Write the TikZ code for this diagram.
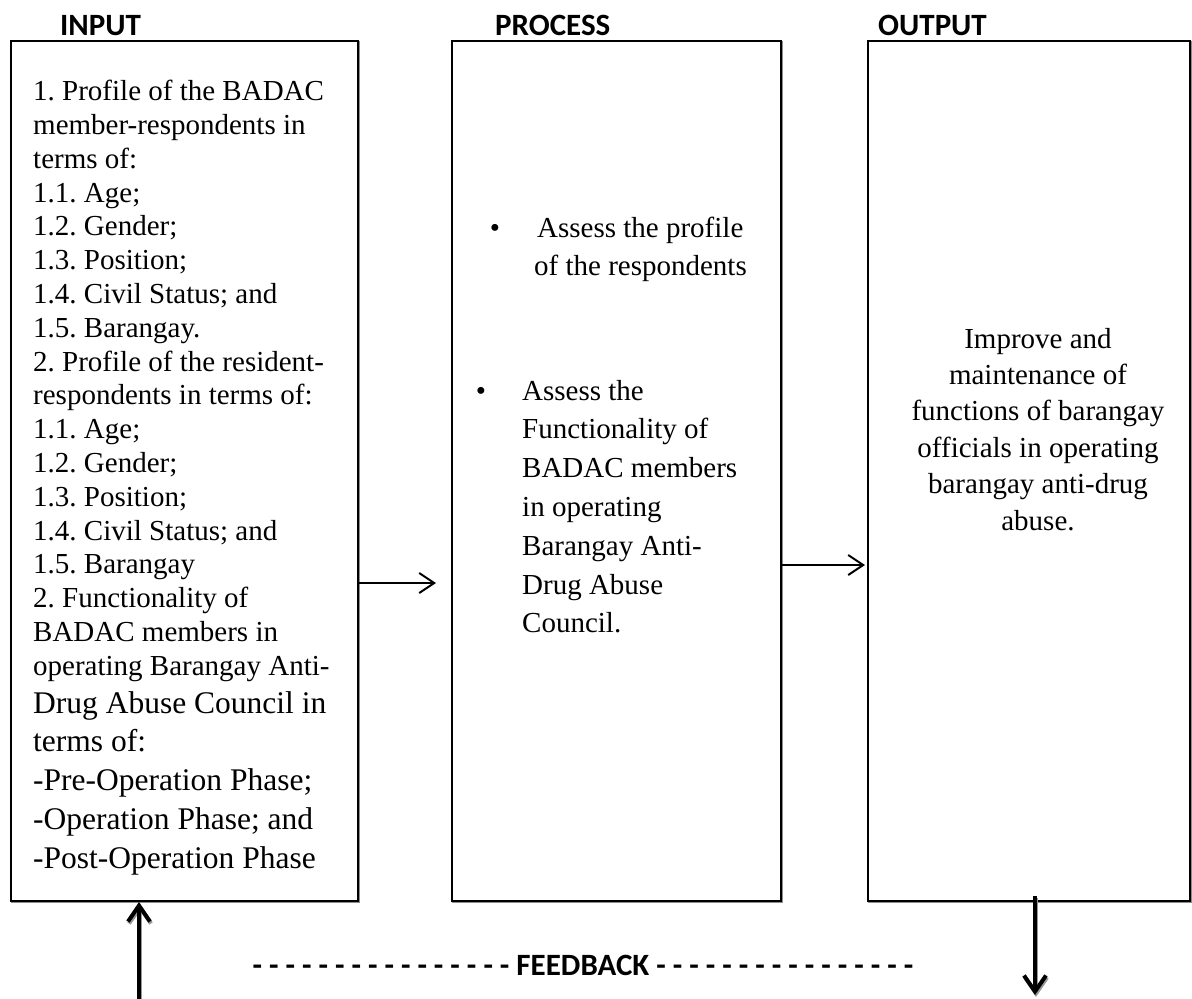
\documentclass[tikz,border=0pt]{standalone}
\usepackage{fontspec}
\setmainfont{Liberation Serif}
\newfontfamily\hdrfont{Carlito}
\usetikzlibrary{arrows.meta}
\frenchspacing
\begin{document}
\begin{tikzpicture}[x=1pt,y=-1pt,
  box/.style={draw, line width=2pt, inner sep=0pt},
  boxshadow/.style={draw=black!45, line width=2pt, inner sep=0pt},
  hdr/.style={font=\hdrfont\bfseries\fontsize{31}{36}\selectfont, anchor=base west, inner sep=0pt},
  body/.style={font=\fontsize{29}{34}\selectfont, anchor=base west, inner sep=0pt},
  bigbody/.style={font=\fontsize{31.5}{38}\selectfont, anchor=base west, inner sep=0pt},
  centbody/.style={font=\fontsize{29}{34}\selectfont, anchor=base, inner sep=0pt},
  thinarrow/.style={line width=2pt, -{Straight Barb[length=15pt,width=20pt]}},
  thickarrow/.style={line width=4pt, -{Straight Barb[length=16pt,width=22pt]}},
  thickshadow/.style={draw=black!40, line width=4pt, -{Straight Barb[length=16pt,width=22pt]}}]
\useasboundingbox (0,0) rectangle (1192,999);
\fill[white] (0,0) rectangle (1192,999);

% box shadows
\node[boxshadow, minimum width=347pt, minimum height=860.5pt] (inshadow) at (185.5,472) {};
\node[boxshadow, minimum width=329pt, minimum height=860.5pt] (prshadow) at (617.5,472) {};
\node[boxshadow, minimum width=322pt, minimum height=860.5pt] (outshadow) at (1030,472) {};
% boxes
\node[box, fill=white, minimum width=347pt, minimum height=860.5pt] (inbox) at (184.5,470.75) {};
\node[box, fill=white, minimum width=329pt, minimum height=860.5pt] (prbox) at (616.5,470.75) {};
\node[box, fill=white, minimum width=322pt, minimum height=860.5pt] (outbox) at (1029,470.75) {};

% headers
\node[hdr] (hin) at (60,35) {INPUT};
\node[hdr] (hpr) at (495,35) {PROCESS};
\node[hdr] (hout) at (878,35) {OUTPUT};

% input text
\foreach \t [count=\i from 0] in {%
  1. Profile of the BADAC,
  member-respondents in,
  terms of:,
  1.1. Age;,
  1.2. Gender;,
  1.3. Position;,
  1.4. Civil Status; and,
  1.5. Barangay.,
  2. Profile of the resident-,
  respondents in terms of:,
  1.1. Age;,
  1.2. Gender;,
  1.3. Position;,
  1.4. Civil Status; and,
  1.5. Barangay,
  2. Functionality of,
  BADAC members in,
  operating Barangay Anti-}
  \node[body] (inl\i) at (33,{100.7+33.8*\i}) {\t};
\foreach \t [count=\i from 0] in {%
  Drug Abuse Council in,
  terms of:,
  -Pre-Operation Phase;,
  -Operation Phase; and,
  -Post-Operation Phase}
  \node[bigbody] (inb\i) at (33,{713+38.8*\i}) {\t};

% process text
\node[body, anchor=base] (pb1) at (495,237) {\textbullet};
\node[body] (pa0) at (537,237) {Assess the profile};
\node[body] (pa1) at (534,275) {of the respondents};
\node[body, anchor=base] (pb2) at (481,400) {\textbullet};
\foreach \t [count=\i from 0] in {%
  Assess the,
  Functionality of,
  BADAC members,
  in operating,
  Barangay Anti-,
  Drug Abuse,
  Council.}
  \node[body] (pc\i) at (522,{400+38.8*\i}) {\t};

% output text
\foreach \t [count=\i from 0] in {%
  Improve and,
  maintenance of,
  functions of barangay,
  officials in operating,
  barangay anti-drug,
  abuse.}
  \node[centbody] (ol\i) at (1038,{348+36.4*\i}) {\t};

% connectors
\draw[thinarrow] (inbox.east |- 0,583) -- ([xshift=-15pt]prbox.west |- 0,583);
\draw[thinarrow] (prbox.east |- 0,565) -- ([xshift=-2pt]outbox.west |- 0,565);

\coordinate (upstart) at (139,999);
\coordinate (upshs) at (140,999);
\coordinate (upshe) at (140,904);
\draw[thickshadow] (upshs) -- (upshe);
\draw[thickarrow] (upstart) -- (inbox.south -| upstart);
\coordinate (dnstart) at (1035,896);
\coordinate (dnend) at (1035,995);
\coordinate (dnshs) at (1036,898);
\coordinate (dnshe) at (1036,997);
\draw[thickshadow] (dnshs) -- (dnshe);
\draw[thickarrow] (dnstart) -- (dnend);

% feedback
\node[hdr, anchor=center] (fb) at (583,965) {- - - - - - - - - - - - - - - - FEEDBACK - - - - - - - - - - - - - - - -};
\end{tikzpicture}
\end{document}
